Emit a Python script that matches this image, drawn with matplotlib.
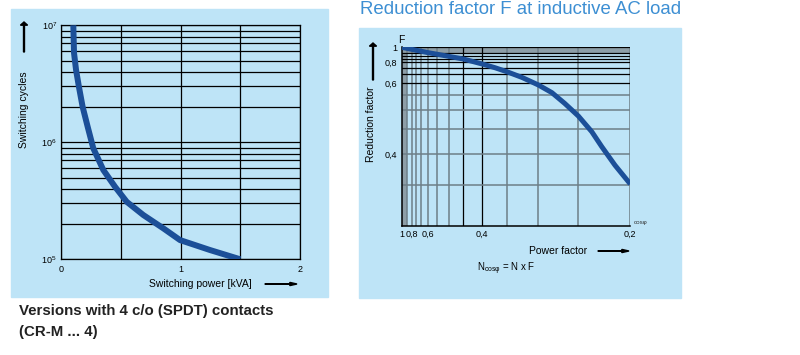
import numpy as np
import matplotlib
matplotlib.use("Agg")
from matplotlib import pyplot as plt
from matplotlib.patches import Rectangle, FancyArrow
from matplotlib.ticker import FixedLocator, LogLocator, NullFormatter, NullLocator

plt.rcParams['font.family'] = ['Liberation Sans', 'DejaVu Sans']

# left chart: electrical endurance
kva = [0.103, 0.109, 0.126, 0.15, 0.181, 0.223, 0.27, 0.354, 0.452, 0.55, 0.689, 0.856, 0.996, 1.247, 1.5]
cycles = [1e7, 5.8e6, 4.15e6, 2.98e6, 2.01e6, 1.36e6, 8.9e5, 5.8e5, 4.17e5, 3.1e5, 2.39e5, 1.84e5, 1.46e5, 1.2e5, 1e5]

# right chart: reduction factor vs power factor
cosphi = [1.0, 0.723, 0.6, 0.517, 0.45, 0.4, 0.374, 0.35, 0.326, 0.3, 0.283, 0.267,
          0.25, 0.237, 0.2275, 0.2147, 0.2]
factor = [1.0, 0.9775, 0.955, 0.906, 0.85, 0.77, 0.705, 0.671, 0.633, 0.593, 0.56, 0.522,
          0.4845, 0.445, 0.415, 0.382, 0.352]

# non-linear chart paper of the right diagram (value -> relative position)
cos_grid = [1.0, 0.9, 0.8, 0.7, 0.65, 0.6, 0.55, 0.5, 0.45, 0.4, 0.35, 0.3, 0.25, 0.2]
cos_pos = [0, 5.6, 10, 14.3, 19.3, 26.6, 35.6, 47.3, 61.6, 80.6, 105, 136.6, 176.6, 228.6]
f_grid = [1.0, 0.95, 0.9, 0.85, 0.8, 0.7, 0.65, 0.6, 0.55, 0.5, 0.45, 0.4, 0.35, 0.3]
f_depth = [0, 6, 8.7, 11.7, 15, 20.7, 27, 36, 47.7, 62.7, 82, 106.7, 138, 178.7]
cos_ticks = [1.0, 0.8, 0.6, 0.4, 0.2]
cos_labels = ['1', '0,8', '0,6', '0,4', '0,2']
f_ticks = [1.0, 0.8, 0.6, 0.4]
f_labels = ['1', '0,8', '0,6', '0,4']

BG = '#bee4f7'
BLUE = '#1c4f98'
GREY = '#6e7f88'
BAND = '#8d9ea7'

W, H = 800, 355
fig = plt.figure(figsize=(W / 100, H / 100), dpi=100)


def fx(px):
    return px / W


def fy(py):
    return 1 - py / H


def panel(x0, y0, x1, y1):
    fig.add_artist(Rectangle((fx(x0), fy(y1)), fx(x1 - x0), (y1 - y0) / H,
                             transform=fig.transFigure, color=BG, zorder=-5))


def arrow(x0, y0, x1, y1):
    fig.add_artist(FancyArrow(fx(x0), fy(y0), fx(x1 - x0), fy(y1) - fy(y0),
                              width=0.0012, head_width=0.009, head_length=0.009,
                              length_includes_head=True, color='black',
                              transform=fig.transFigure))


panel(11, 9, 328, 297)
panel(359, 28, 681, 298)

# ---------------- left chart
ax = fig.add_axes([fx(61), fy(259.3), fx(239), 234 / H])
ax.set_facecolor('none')
ax.set_yscale('log')
ax.set_xlim(0, 2)
ax.set_ylim(1e5, 1e7)
ax.xaxis.set_major_locator(FixedLocator([0, 1, 2]))
ax.xaxis.set_minor_locator(FixedLocator([0.5, 1.5]))
ax.yaxis.set_major_locator(LogLocator(base=10))
ax.yaxis.set_minor_locator(LogLocator(base=10, subs=np.arange(2, 10)))
ax.yaxis.set_minor_formatter(NullFormatter())
ax.grid(True, which='both', color='black', linewidth=0.9)
for s in ax.spines.values():
    s.set_linewidth(0.9)
ax.tick_params(which='both', length=0, labelsize=6.5, pad=4)
ax.tick_params(axis='y', pad=3)
ax.plot(kva, cycles, color=BLUE, linewidth=4.3, solid_capstyle='butt',
        solid_joinstyle='round', zorder=5)

fig.text(fx(24), fy(110), 'Switching cycles', rotation=90, ha='center', va='center', fontsize=7.5)
arrow(24, 52, 24, 22)
fig.text(fx(200), fy(284), 'Switching power [kVA]', ha='center', va='center', fontsize=7.5)
arrow(265, 284, 297, 284)

fig.text(fx(19), fy(311), 'Versions with 4 c/o (SPDT) contacts', ha='left', va='center',
         fontsize=10.8, fontweight='bold', color='#222222')
fig.text(fx(19), fy(332), '(CR-M ... 4)', ha='left', va='center',
         fontsize=10.8, fontweight='bold', color='#222222')

# ---------------- right chart
fig.text(fx(360), fy(10), 'Reduction factor F at inductive AC load', ha='left', va='center',
         fontsize=13.4, color='#3d8fd3')

bx = fig.add_axes([fx(401.7), fy(226), fx(228.6), 178.7 / H])
bx.set_facecolor('none')


def cos_fwd(c):
    return np.interp(-np.asarray(c, float), [-v for v in cos_grid], cos_pos)


def cos_inv(p):
    return np.interp(np.asarray(p, float), cos_pos, cos_grid)


def f_fwd(f):
    return -np.interp(-np.asarray(f, float), [-v for v in f_grid], f_depth)


def f_inv(p):
    return np.interp(-np.asarray(p, float), f_depth, f_grid)


bx.set_xscale('function', functions=(cos_fwd, cos_inv))
bx.set_yscale('function', functions=(f_fwd, f_inv))
bx.set_xlim(0.2, 1.0)
bx.set_ylim(0.3, 1.0)

bx.axvspan(1.0, 0.9, color=BAND, lw=0, zorder=1)
bx.axhspan(0.95, 1.0, color=BAND, lw=0, zorder=1)
for c in cos_grid[1:]:
    dark = c in (0.45, 0.4)
    bx.axvline(c, color='black' if dark else GREY, linewidth=0.9 if dark else 1.1, zorder=2)
for f in f_grid[:-1]:
    dark = f >= 0.6
    bx.axhline(f, color='black' if dark else GREY, linewidth=0.9 if dark else 1.1, zorder=2)

bx.spines['top'].set_visible(False)
bx.spines['right'].set_visible(False)
bx.spines['left'].set_linewidth(1.1)
bx.spines['bottom'].set_linewidth(1.1)
bx.xaxis.set_major_locator(FixedLocator(cos_ticks))
bx.xaxis.set_ticklabels(cos_labels)
bx.yaxis.set_major_locator(FixedLocator(f_ticks))
bx.yaxis.set_ticklabels(f_labels)
bx.xaxis.set_minor_locator(NullLocator())
bx.yaxis.set_minor_locator(NullLocator())
bx.tick_params(length=0, labelsize=6.5, pad=3)
bx.plot(cosphi, factor, color=BLUE, linewidth=3.6, solid_capstyle='butt',
        solid_joinstyle='round', zorder=5)

fig.text(fx(401), fy(40), 'F', ha='center', va='center', fontsize=7.5)
fig.text(fx(641), fy(222), 'cosφ', ha='center', va='center', fontsize=4.5, color='#333333')
fig.text(fx(371), fy(124), 'Reduction factor', rotation=90, ha='center', va='center', fontsize=7.5)
arrow(373, 80, 373, 43)
fig.text(fx(558), fy(251), 'Power factor', ha='center', va='center', fontsize=7.5)
arrow(598, 251, 629, 251)
fig.text(fx(477), fy(269), r'N$_{\mathregular{cos\varphi}}$ = N x F', ha='left', va='center', fontsize=7)

fig.savefig('out.png', dpi=100)
